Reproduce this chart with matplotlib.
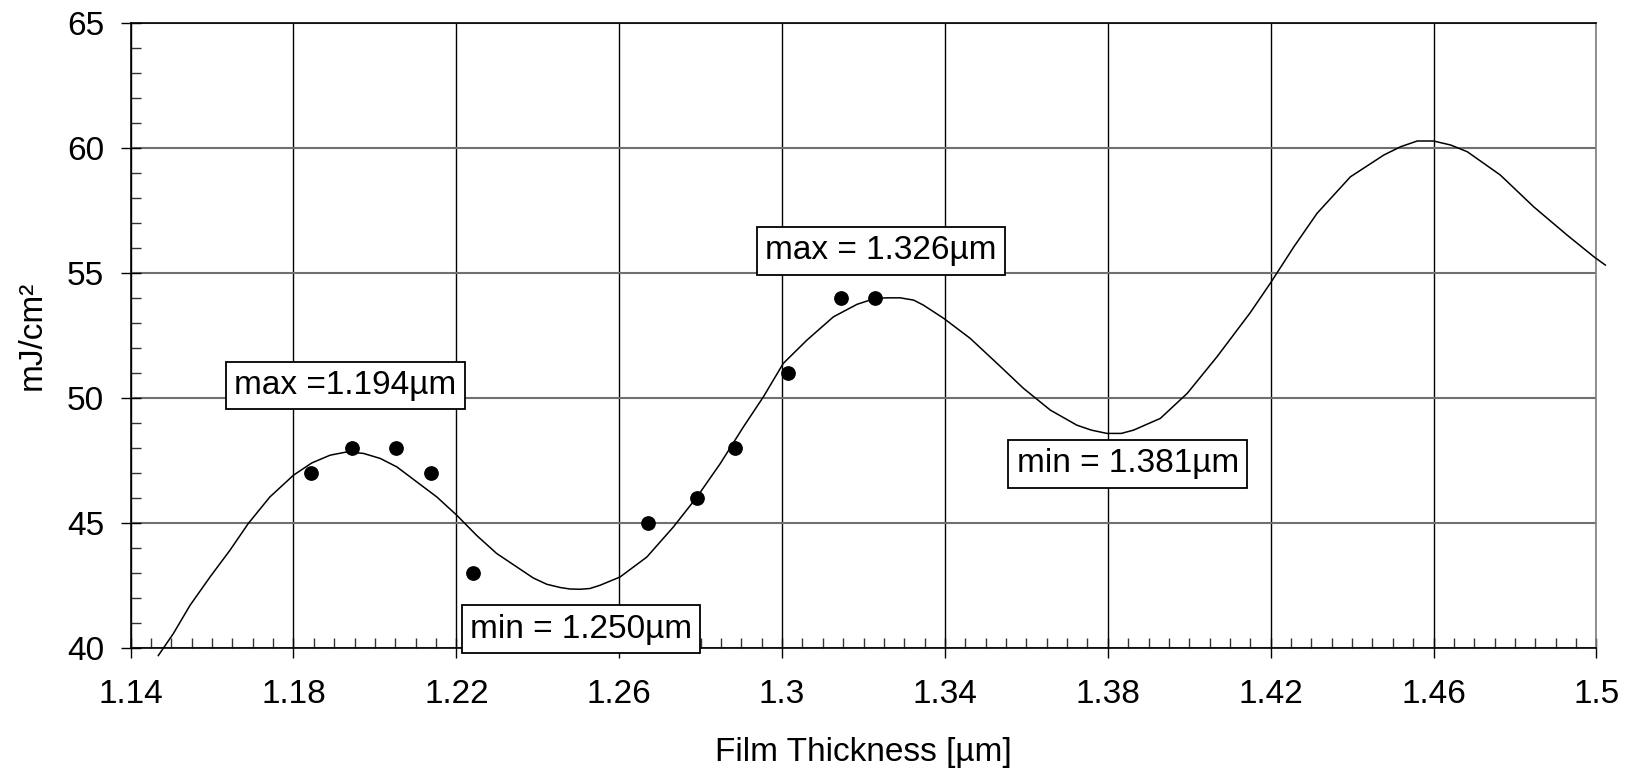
import matplotlib
matplotlib.use("Agg")
import matplotlib.pyplot as plt
from matplotlib.ticker import MultipleLocator

plt.rcParams['font.family'] = ['Liberation Sans', 'DejaVu Sans']

# fitted curve
curve_x = [1.1468, 1.1505, 1.1546, 1.1595, 1.1644, 1.1689, 1.1742, 1.1800,
           1.1845, 1.1890, 1.1931, 1.1972, 1.2013, 1.2054, 1.2103, 1.2152,
           1.2201, 1.2250, 1.2299, 1.2389, 1.2422, 1.2455, 1.2479, 1.2504,
           1.2528, 1.2553, 1.2602, 1.2668, 1.2733, 1.2791, 1.2848, 1.2905,
           1.2954, 1.3003, 1.3061, 1.3126, 1.3184, 1.3229, 1.3258, 1.3290,
           1.3323, 1.3347, 1.3397, 1.3462, 1.3528, 1.3593, 1.3659, 1.3724,
           1.3760, 1.3798, 1.3833, 1.3863, 1.3929, 1.3995, 1.4068, 1.4150,
           1.4199, 1.4257, 1.4314, 1.4396, 1.4478, 1.4519, 1.4560, 1.4600,
           1.4642, 1.4683, 1.4764, 1.4846, 1.4928, 1.4994, 1.5022]
curve_y = [39.70, 40.58, 41.71, 42.84, 43.91, 44.98, 46.04, 46.91,
           47.40, 47.71, 47.84, 47.78, 47.58, 47.24, 46.64, 46.04,
           45.31, 44.50, 43.78, 42.80, 42.55, 42.42, 42.36, 42.35,
           42.38, 42.51, 42.84, 43.64, 44.84, 46.04, 47.37, 48.84,
           50.04, 51.38, 52.31, 53.24, 53.74, 53.98, 54.00, 54.00,
           53.91, 53.71, 53.18, 52.38, 51.38, 50.38, 49.51, 48.91,
           48.71, 48.58, 48.58, 48.71, 49.18, 50.18, 51.64, 53.41,
           54.58, 56.04, 57.38, 58.84, 59.71, 60.04, 60.27, 60.27,
           60.11, 59.84, 58.91, 57.64, 56.51, 55.64, 55.31]

# measured points
meas_x = [1.1844, 1.1944, 1.2052, 1.2137, 1.2240, 1.2671, 1.2792, 1.2884,
          1.3015, 1.3144, 1.3229]
meas_y = [47, 48, 48, 47, 43, 45, 46, 48, 51, 54, 54]

x_ticks = [1.14, 1.18, 1.22, 1.26, 1.30, 1.34, 1.38, 1.42, 1.46, 1.50]
x_tick_labels = ["1.14", "1.18", "1.22", "1.26", "1.3", "1.34", "1.38",
                 "1.42", "1.46", "1.5"]
y_ticks = [40, 45, 50, 55, 60, 65]

labels = ["max =1.194\u00b5m", "min = 1.250\u00b5m", "max = 1.326\u00b5m",
          "min = 1.381\u00b5m"]

fig = plt.figure(figsize=(16.39, 7.69), dpi=100)
ax = fig.add_axes([0.0797, 0.1573, 0.8943, 0.8132])

ax.plot(curve_x, curve_y, color='black', linewidth=1.1, clip_on=False,
        zorder=3)
ax.plot(meas_x, meas_y, linestyle='none', marker='o', markersize=9.6,
        color='black', zorder=4)

ax.set_xlim(1.14, 1.5)
ax.set_ylim(40, 65)
ax.set_xticks(x_ticks)
ax.set_xticklabels(x_tick_labels)
ax.set_yticks(y_ticks)
ax.xaxis.set_minor_locator(MultipleLocator(0.005))
ax.yaxis.set_minor_locator(MultipleLocator(1))

ax.tick_params(which='major', direction='inout', length=14, width=1,
               labelsize=24, color='black')
ax.tick_params(axis='x', which='major', pad=15)
ax.tick_params(axis='y', which='major', pad=12)
ax.tick_params(which='minor', direction='in', length=7, width=1,
               color='#333333')

ax.xaxis.grid(True, which='major', color='black', linewidth=1.0)
ax.yaxis.grid(True, which='major', color='#707070', linewidth=1.5)
ax.set_axisbelow(True)

for side in ['left', 'bottom', 'top']:
    ax.spines[side].set_color('black')
    ax.spines[side].set_linewidth(1.2)
ax.spines['right'].set_color('#808080')
ax.spines['right'].set_linewidth(1.2)

ax.set_xlabel("Film Thickness [\u00b5m]", fontsize=24, labelpad=20)
ax.set_ylabel("mJ/cm\u00b2", fontsize=24, labelpad=14)

box = dict(boxstyle='square,pad=0.25', facecolor='white', edgecolor='black',
           linewidth=1.3)
label_pos = [(1.1927, 50.5), (1.2506, 40.75), (1.3243, 55.88),
             (1.3849, 47.36)]
for text, (lx, ly) in zip(labels, label_pos):
    ax.text(lx, ly, text, fontsize=24, ha='center', va='center', bbox=box,
            zorder=5, clip_on=False)

plt.savefig("out.png", dpi=100)
